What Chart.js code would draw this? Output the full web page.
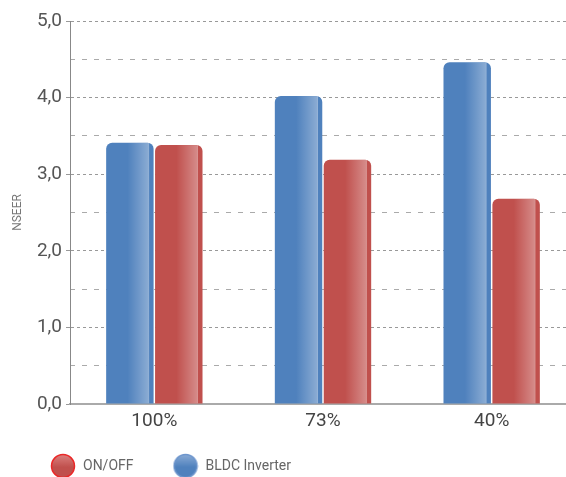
<!DOCTYPE html>
<html>
<head>
<meta charset="utf-8">
<script src="https://cdn.jsdelivr.net/npm/chart.js@4"></script>
<style>
  html, body { margin: 0; padding: 0; background: #fff; overflow: hidden; }
  #wrap { position: relative; width: 576px; height: 477px; }
</style>
</head>
<body>
<div id="wrap"><canvas id="myChart"></canvas></div>
<script>
const categories = ['100%', '73%', '40%'];
const bldcValues = [3.41, 4.02, 4.46];
const onOffValues = [3.38, 3.19, 2.68];
const seriesNames = ['BLDC Inverter', 'ON/OFF'];

const blue = 'rgb(79, 129, 189)';
const red = 'rgb(192, 80, 77)';

// round legend markers with a soft vertical shine
function makeDot(top, bottom, stroke) {
  const c = document.createElement('canvas');
  c.width = 26;
  c.height = 26;
  const g = c.getContext('2d');
  const grad = g.createLinearGradient(0, 1, 0, 25);
  grad.addColorStop(0, top);
  grad.addColorStop(0.55, bottom);
  grad.addColorStop(1, bottom);
  g.beginPath();
  g.arc(13, 13, 11.5, 0, Math.PI * 2);
  g.fillStyle = grad;
  g.fill();
  g.lineWidth = 1.5;
  g.strokeStyle = stroke;
  g.stroke();
  return c;
}
const blueDot = makeDot('rgb(140, 172, 214)', blue, 'rgb(110, 150, 205)');
const redDot = makeDot('rgb(220, 130, 128)', red, 'rgb(235, 40, 40)');

// light sheen on the right side of every bar, plus a darker edge strip
const barShine = {
  id: 'barShine',
  afterDatasetsDraw(chart) {
    const ctx = chart.ctx;
    chart.data.datasets.forEach((ds, i) => {
      const meta = chart.getDatasetMeta(i);
      meta.data.forEach(bar => {
        const p = bar.getProps(['x', 'y', 'base', 'width'], true);
        const left = p.x - p.width / 2;
        const h = p.base - p.y;
        const g = ctx.createLinearGradient(left, 0, left + p.width, 0);
        g.addColorStop(0, 'rgba(255,255,255,0)');
        g.addColorStop(0.45, 'rgba(255,255,255,0)');
        g.addColorStop(0.88, 'rgba(255,255,255,0.33)');
        g.addColorStop(0.9, 'rgba(255,255,255,0.4)');
        g.addColorStop(0.915, 'rgba(255,255,255,0)');
        g.addColorStop(1, 'rgba(255,255,255,0)');
        ctx.save();
        ctx.beginPath();
        ctx.roundRect(left, p.y, p.width, h, [6, 6, 0, 0]);
        ctx.clip();
        ctx.fillStyle = g;
        ctx.fillRect(left, p.y, p.width, h);
        ctx.restore();
      });
    });
  }
};

// pull the legend up a little, it reserves more room than it needs
const legendNudge = {
  id: 'legendNudge',
  afterLayout(chart) {
    const lg = chart.legend;
    if (!lg) return;
    lg.top -= 14;
    lg.bottom -= 14;
  }
};

const data = {
  labels: categories,
  datasets: [{
    label: seriesNames[0],
    data: bldcValues,
    backgroundColor: blue,
    pointStyle: blueDot,
    borderRadius: { topLeft: 6, topRight: 6 },
    borderSkipped: 'bottom',
    categoryPercentage: 0.58,
    barPercentage: 0.97,
  }, {
    label: seriesNames[1],
    data: onOffValues,
    backgroundColor: red,
    pointStyle: redDot,
    borderRadius: { topLeft: 6, topRight: 6 },
    borderSkipped: 'bottom',
    categoryPercentage: 0.58,
    barPercentage: 0.97,
  }]
};

const fmt = v => v.toFixed(1).replace('.', ',');

const config = {
  type: 'bar',
  data: data,
  plugins: [barShine, legendNudge],
  options: {
    responsive: true,
    maintainAspectRatio: false,
    animation: false,
    layout: { padding: { left: 11, top: 21, right: 0, bottom: -20 } },
    plugins: {
      tooltip: { enabled: false },
      legend: {
        position: 'bottom',
        align: 'start',
        reverse: true,
        labels: {
          usePointStyle: true,
          pointStyleWidth: 26,
          padding: 39,
          color: '#666',
          font: { family: 'Roboto', size: 14 },
        }
      }
    },
    scales: {
      x: {
        afterFit(scale) { scale.height = 30; },
        grid: { display: false, drawTicks: false },
        border: { color: '#aaa', width: 2 },
        ticks: { color: '#444', font: { family: 'Roboto', size: 19 }, padding: 6 },
      },
      y: {
        min: 0,
        max: 5,
        afterFit(scale) { scale.width = 59; },
        ticks: {
          stepSize: 1,
          color: '#555',
          font: { family: 'Roboto', size: 19 },
          padding: 4,
          callback: v => fmt(v),
        },
        grid: { color: '#999', tickLength: 4, tickColor: '#999' },
        border: { color: '#888', width: 1, dash: [3, 3] },
        title: {
          display: true,
          text: 'NSEER',
          color: '#777',
          font: { family: 'Roboto', size: 12 },
          padding: { top: 0, bottom: 4 },
        },
      },
      yHalf: {
        axis: 'y',
        position: 'left',
        min: 0,
        max: 5,
        ticks: { display: false, stepSize: 0.5 },
        grid: {
          drawTicks: false,
          color: c => (c.tick && Math.abs(c.tick.value % 1 - 0.5) < 0.01) ? '#aaa' : 'rgba(0,0,0,0)',
        },
        border: { display: false, dash: [5, 7] },
      }
    }
  },
};

const myChart = new Chart(
  document.getElementById('myChart'),
  config
);
</script>
</body>
</html>
